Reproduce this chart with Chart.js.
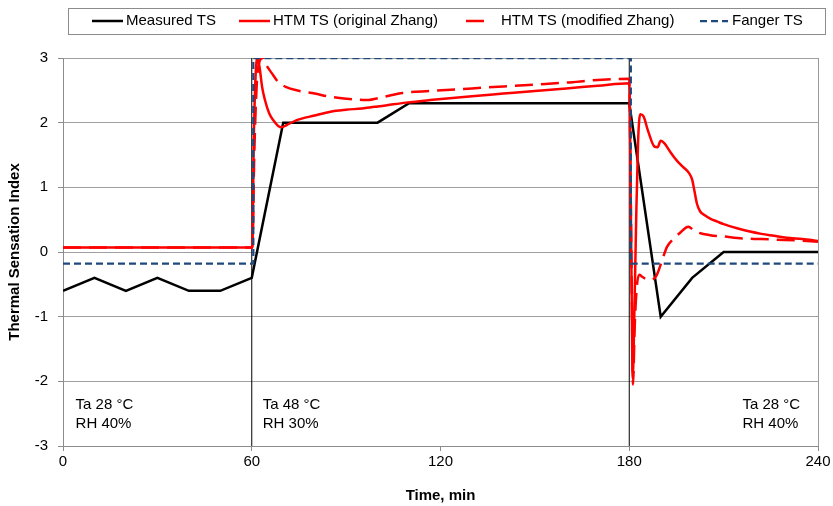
<!DOCTYPE html>
<html>
<head>
<meta charset="utf-8">
<script src="https://cdn.jsdelivr.net/npm/chart.js@4.4.1/dist/chart.umd.min.js"></script>
<style>
  html, body { margin: 0; padding: 0; background: #fff; }
</style>
</head>
<body>
<canvas id="tsChart" width="833" height="506"></canvas>
<script>
// Measured TS (votes)
const measuredTime = [0, 10, 20, 30, 40, 50, 60, 70, 100, 110, 180, 190, 200, 210, 240];
const measuredTS = [-0.6, -0.4, -0.6, -0.4, -0.6, -0.6, -0.4, 2, 2, 2.3, 2.3, -1, -0.4, 0, 0];

// HTM TS, original Zhang model
const origTime = [0, 60.2, 60.6, 61.2, 61.8, 62.5, 63.3, 64.2, 65.5, 66.8, 68.4, 69.5, 71, 74.3, 80, 85, 90, 95, 98, 100, 103, 109, 116.7, 130, 140, 150, 160, 170, 180,
  180.4, 180.8, 181.1, 181.6, 182.2, 182.8, 183.5, 184.5, 186, 188, 189, 190, 191.2, 193, 195, 197, 199, 200, 200.7, 201.5, 202.5, 204, 206, 208, 210, 214, 218, 222, 226, 230, 235, 240];
const origTS = [0.07, 0.07, 1.6, 2.7, 3.0, 2.85, 2.55, 2.35, 2.15, 2.04, 1.95, 1.93, 1.96, 2.04, 2.11, 2.17, 2.2, 2.22, 2.24, 2.25, 2.27, 2.31, 2.35, 2.41, 2.45, 2.49, 2.53, 2.57, 2.61,
  1.2, -0.8, -1.95, -1.0, 0.5, 1.7, 2.13, 2.1, 1.87, 1.63, 1.62, 1.72, 1.68, 1.55, 1.42, 1.32, 1.22, 1.12, 0.95, 0.75, 0.63, 0.57, 0.51, 0.47, 0.43, 0.37, 0.32, 0.28, 0.25, 0.22, 0.2, 0.17];

// HTM TS, modified Zhang model
const modTime = [0, 60.2, 60.8, 61.6, 62.5, 63.5, 64.5, 66.3, 68.4, 71, 74.3, 80, 85, 90, 96.5, 102, 108, 116.7, 130, 140, 150, 160, 170, 180,
  180.4, 180.8, 181.2, 181.7, 182.4, 183.2, 184, 185.5, 187, 188.7, 190.5, 192, 194, 196, 198.8, 200.4, 202, 205.7, 210, 216, 222, 227, 233, 240];
const modTS = [0.07, 0.07, 1.5, 2.6, 2.95, 3.0, 2.9, 2.77, 2.63, 2.55, 2.5, 2.45, 2.4, 2.37, 2.35, 2.4, 2.46, 2.49, 2.53, 2.56, 2.59, 2.62, 2.66, 2.68,
  1.2, -0.6, -2.05, -1.2, -0.54, -0.35, -0.38, -0.42, -0.43, -0.36, -0.12, 0.08, 0.2, 0.29, 0.39, 0.34, 0.3, 0.26, 0.24, 0.21, 0.2, 0.19, 0.18, 0.16];

// Fanger PMV based TS
const fangerTime = [0, 60.5, 60.5, 180.5, 180.5, 240];
const fangerTS = [-0.18, -0.18, 3, 3, -0.18, -0.18];

// phase changes and their conditions
const phaseTime = [60, 180];
const phaseLabels = [['Ta 28 °C', 'RH 40%'], ['Ta 48 °C', 'RH 30%'], ['Ta 28 °C', 'RH 40%']];

const xTicks = [0, 60, 120, 180, 240];
const yTicks = [-3, -2, -1, 0, 1, 2, 3];

const FONT = "'Liberation Sans', Arial, sans-serif";

function toPoints(xs, ys) {
    return xs.map(function(x, i) { return { x: x, y: ys[i] }; });
}

const datasets = [
    {
        label: 'Measured TS',
        data: toPoints(measuredTime, measuredTS),
        borderColor: '#000000',
        borderWidth: 2.5,
        order: 4
    },
    {
        label: 'HTM TS (original Zhang)',
        data: toPoints(origTime, origTS),
        borderColor: '#FF0000',
        borderWidth: 2.5,
        cubicInterpolationMode: 'monotone',
        order: 3
    },
    {
        label: 'HTM TS (modified Zhang)',
        data: toPoints(modTime, modTS),
        borderColor: '#FF0000',
        borderWidth: 2.5,
        borderDash: [18, 8],
        cubicInterpolationMode: 'monotone',
        order: 2
    },
    {
        label: 'Fanger TS',
        data: toPoints(fangerTime, fangerTS),
        borderColor: '#1F497D',
        borderWidth: 2.25,
        borderDash: [7, 4],
        order: 1
    }
];

// thin black lines marking the phase changes
phaseTime.forEach(function(t) {
    datasets.push({
        label: '',
        data: [{ x: t, y: yTicks[0] }, { x: t, y: yTicks[yTicks.length - 1] }],
        borderColor: '#000000',
        borderWidth: 1,
        order: 5
    });
});

// legend drawn by hand inside a box, like the spreadsheet one
const legendPos = [
    { x0: 92, x1: 123, tx: 126 },
    { x0: 239, x1: 270, tx: 273 },
    { x0: 466, x1: 488, tx: 501 },
    { x0: 700, x1: 728, tx: 732 }
];

const boxLegend = {
    id: 'boxLegend',
    afterDraw: function(chart) {
        const ctx = chart.ctx;
        ctx.save();
        ctx.strokeStyle = '#8c8c8c';
        ctx.lineWidth = 1;
        ctx.strokeRect(68.5, 8.5, 757, 26);
        ctx.font = '15px ' + FONT;
        ctx.textBaseline = 'middle';
        ctx.fillStyle = '#000';
        legendPos.forEach(function(p, i) {
            const ds = chart.data.datasets[i];
            ctx.beginPath();
            ctx.setLineDash(ds.borderDash || []);
            ctx.strokeStyle = ds.borderColor;
            ctx.lineWidth = ds.borderWidth;
            ctx.moveTo(p.x0, 21);
            ctx.lineTo(p.x1, 21);
            ctx.stroke();
            ctx.setLineDash([]);
            ctx.fillText(ds.label, p.tx, 21);
        });
        ctx.restore();
    }
};

// conditions written inside each phase
const phaseText = {
    id: 'phaseText',
    afterDatasetsDraw: function(chart) {
        const ctx = chart.ctx;
        const xs = chart.scales.x;
        const ys = chart.scales.y;
        const anchors = [4, 63.5, 216];
        ctx.save();
        ctx.font = '15px ' + FONT;
        ctx.fillStyle = '#000';
        ctx.textBaseline = 'middle';
        phaseLabels.forEach(function(lines, i) {
            const px = xs.getPixelForValue(anchors[i]);
            ctx.fillText(lines[0], px, ys.getPixelForValue(-2.37));
            ctx.fillText(lines[1], px, ys.getPixelForValue(-2.66));
        });
        ctx.restore();
    }
};

document.addEventListener('DOMContentLoaded', function() {
    const ctx = document.getElementById('tsChart').getContext('2d');
    new Chart(ctx, {
        type: 'line',
        data: { datasets: datasets },
        options: {
            responsive: false,
            animation: false,
            devicePixelRatio: 1,
            layout: { padding: { top: 58, right: 15, left: 0, bottom: 0 } },
            elements: {
                point: { radius: 0, hoverRadius: 0 },
                line: { tension: 0, fill: false }
            },
            scales: {
                x: {
                    type: 'linear',
                    min: 0,
                    max: 240,
                    afterBuildTicks: function(scale) {
                        scale.ticks = xTicks.map(function(v) { return { value: v }; });
                    },
                    afterFit: function(scale) { scale.height = 60; },
                    ticks: {
                        color: '#000',
                        font: { family: FONT, size: 15 },
                        padding: 2,
                        maxRotation: 0
                    },
                    grid: {
                        color: function(c) { return c.tick && c.tick.value === 240 ? '#9a9a9a' : 'rgba(0,0,0,0)'; },
                        tickColor: '#8c8c8c',
                        tickLength: 5
                    },
                    border: { color: '#8c8c8c' },
                    title: {
                        display: true,
                        text: 'Time, min',
                        color: '#000',
                        font: { family: FONT, size: 15, weight: 'bold' },
                        padding: { top: 0, bottom: 1 }
                    }
                },
                y: {
                    min: -3,
                    max: 3,
                    afterBuildTicks: function(scale) {
                        scale.ticks = yTicks.map(function(v) { return { value: v }; });
                    },
                    afterFit: function(scale) { scale.width = 63; },
                    ticks: {
                        color: '#000',
                        font: { family: FONT, size: 15 },
                        padding: 10
                    },
                    grid: {
                        color: '#a0a0a0',
                        tickColor: '#8c8c8c',
                        tickLength: 5
                    },
                    border: { color: '#8c8c8c' },
                    title: {
                        display: true,
                        text: 'Thermal Sensation Index',
                        color: '#000',
                        font: { family: FONT, size: 15, weight: 'bold' },
                        padding: { top: 6, bottom: 0 }
                    }
                }
            },
            plugins: {
                legend: { display: false },
                tooltip: { enabled: false }
            }
        },
        plugins: [boxLegend, phaseText]
    });
});
</script>
</body>
</html>
